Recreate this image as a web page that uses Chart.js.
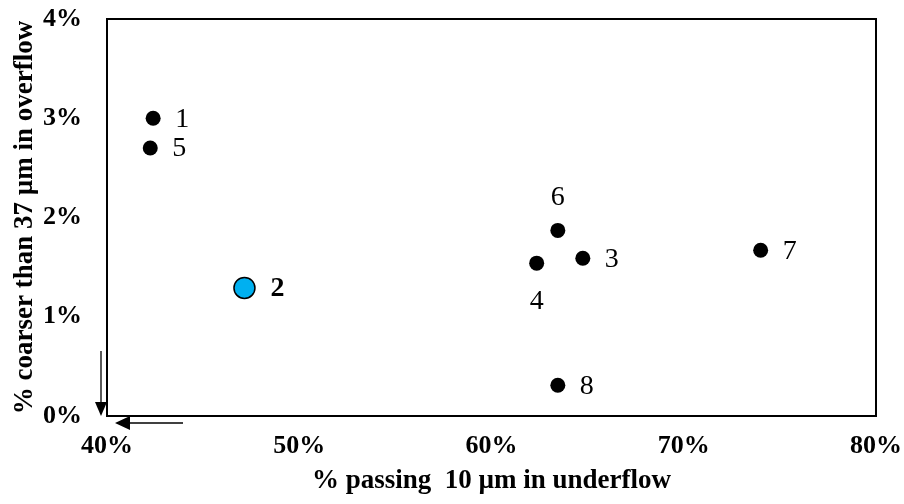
<!DOCTYPE html>
<html>
<head>
<meta charset="utf-8">
<script src="https://cdn.jsdelivr.net/npm/chart.js@4"></script>
<style>
  html, body { margin: 0; padding: 0; background: #fff; }
  #wrap { width: 904px; height: 504px; }
</style>
</head>
<body>
<div id="wrap"><canvas id="myChart"></canvas></div>
<script>
// Datos (en %)
var sampleIds = ['1', '5', '2', '6', '3', '4', '7', '8'];
var passing10 = [42.4, 42.25, 47.15, 63.45, 64.75, 62.35, 74.0, 63.45];
var coarser37 = [3.00, 2.70, 1.29, 1.87, 1.59, 1.54, 1.67, 0.31];
var highlightId = '2';
var xTicks = [40, 50, 60, 70, 80];
var yTicks = [0, 1, 2, 3, 4];

// Posición de cada etiqueta respecto al punto
var labelSide = { '1': 'right', '5': 'right', '2': 'right', '6': 'above', '3': 'right', '4': 'below', '7': 'right', '8': 'right' };

var serif = '"Liberation Serif", "Times New Roman", serif';

var normalPts = [], highPts = [];
for (var i = 0; i < sampleIds.length; i++) {
  var p = { x: passing10[i], y: coarser37[i], id: sampleIds[i] };
  if (sampleIds[i] === highlightId) highPts.push(p); else normalPts.push(p);
}

// Etiquetas de los puntos, marco y flechas
var decorPlugin = {
  id: 'decor',
  afterDatasetsDraw: function(chart) {
    var c = chart.ctx;
    var a = chart.chartArea;
    c.save();
    c.strokeStyle = '#000';
    c.lineWidth = 2;
    c.strokeRect(a.left, a.top, a.right - a.left, a.bottom - a.top);

    c.fillStyle = '#000';
    c.textBaseline = 'middle';
    chart.data.datasets.forEach(function(ds, di) {
      var meta = chart.getDatasetMeta(di);
      ds.data.forEach(function(d, j) {
        var el = meta.data[j];
        var side = labelSide[d.id];
        var bold = d.id === highlightId;
        c.font = (bold ? 'bold ' : '') + '28px ' + serif;
        if (side === 'right') {
          c.textAlign = 'left';
          c.fillText(d.id, el.x + (bold ? 26 : 22), el.y + 1);
        } else if (side === 'above') {
          c.textAlign = 'center';
          c.fillText(d.id, el.x, el.y - 33);
        } else {
          c.textAlign = 'center';
          c.fillText(d.id, el.x, el.y + 38);
        }
      });
    });

    // flechas en la esquina
    c.lineWidth = 1.3;
    var vx = a.left - 6;
    c.beginPath(); c.moveTo(vx, a.bottom - 65); c.lineTo(vx, a.bottom - 12); c.stroke();
    c.beginPath(); c.moveTo(vx - 6, a.bottom - 14); c.lineTo(vx + 6, a.bottom - 14); c.lineTo(vx, a.bottom); c.closePath(); c.fill();
    var hy = a.bottom + 7;
    c.beginPath(); c.moveTo(a.left + 76, hy); c.lineTo(a.left + 20, hy); c.stroke();
    c.beginPath(); c.moveTo(a.left + 23, hy - 7); c.lineTo(a.left + 23, hy + 7); c.lineTo(a.left + 8, hy); c.closePath(); c.fill();
    c.restore();
  }
};

var ctx = document.getElementById('myChart').getContext('2d');
var chart = new Chart(ctx, {
  type: 'scatter',
  data: {
    datasets: [{
      data: normalPts,
      pointRadius: 7.5,
      pointHoverRadius: 7.5,
      pointBackgroundColor: '#000',
      pointBorderColor: '#000',
      pointBorderWidth: 0
    }, {
      data: highPts,
      pointRadius: 10.5,
      pointHoverRadius: 10.5,
      pointBackgroundColor: '#00b0f0',
      pointBorderColor: '#000',
      pointBorderWidth: 1.5
    }]
  },
  options: {
    responsive: true,
    maintainAspectRatio: false,
    animation: false,
    layout: { padding: { left: 5, top: 19, right: 28, bottom: 3 } },
    plugins: { legend: { display: false }, tooltip: { enabled: false } },
    scales: {
      x: {
        type: 'linear',
        min: 40, max: 80,
        afterBuildTicks: function(s) { s.ticks = xTicks.map(function(v) { return { value: v }; }); },
        afterFit: function(s) { s.height = 504 - 416 - 3; s.paddingLeft = 0; s.paddingRight = 0; },
        grid: { display: false, drawTicks: false },
        border: { display: false },
        ticks: {
          padding: 15,
          color: '#000',
          font: { family: serif, size: 26, weight: 'bold' },
          callback: function(v) { return v + '%'; }
        },
        title: {
          display: true,
          text: '% passing  10 µm in underflow',
          color: '#000',
          font: { family: serif, size: 27, weight: 'bold' }
        }
      },
      y: {
        type: 'linear',
        min: 0, max: 4,
        afterBuildTicks: function(s) { s.ticks = yTicks.map(function(v) { return { value: v }; }); },
        afterFit: function(s) { s.width = 107 - 5; s.paddingTop = 0; s.paddingBottom = 0; },
        grid: { display: false, drawTicks: false },
        border: { display: false },
        ticks: {
          padding: 25,
          color: '#000',
          font: { family: serif, size: 26, weight: 'bold' },
          callback: function(v) { return v + '%'; }
        },
        title: {
          display: true,
          text: '% coarser than 37 µm in overflow',
          color: '#000',
          font: { family: serif, size: 27, weight: 'bold' }
        }
      }
    }
  },
  plugins: [decorPlugin]
});
</script>
</body>
</html>
